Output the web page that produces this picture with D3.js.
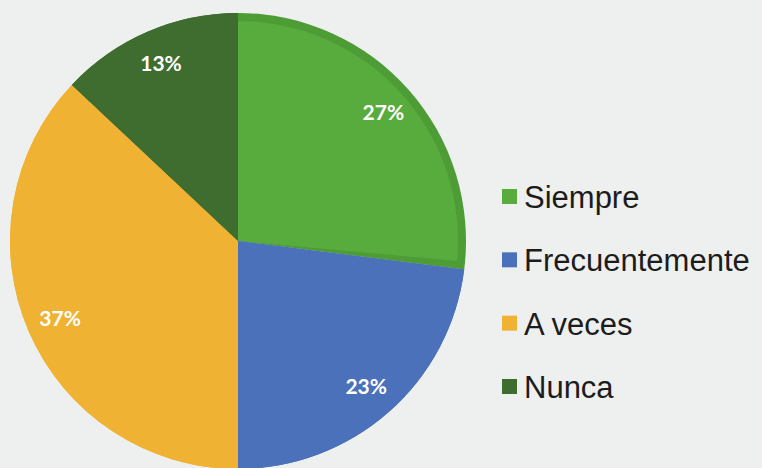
<!DOCTYPE html>
<html lang="es">

<head>
  <meta charset="UTF-8">
  <title>Pie chart</title>
  <style>
    body { margin: 0; background: #eef0ef; }
    svg { display: block; }
    .legend text { font-family: "Liberation Sans", Arial, sans-serif; fill: #1c1c1c; }
    .labels text { font-family: Lato, "Open Sans", sans-serif; font-weight: 700; fill: #fff; }
  </style>
  <script src="https://d3js.org/d3.v7.min.js"></script>
</head>

<body>
  <svg id="pie" width="762" height="468"></svg>
  <script>
    // data
    const categories = ["Siempre", "Frecuentemente", "A veces", "Nunca"];
    const values = [27, 23, 37, 13];
    const colors = ["#58ab3d", "#4a71b9", "#f0b233", "#3f6c2f"];
    const rimColors = ["#4e9c35", "#4a71b9", "#f0b233", "#3f6c2f"];

    const svg = d3.select("svg#pie");
    const cx = 238, cy = 241, radius = 228;

    const data = categories.map((c, i) => ({ name: c, value: values[i], color: colors[i], rim: rimColors[i] }));

    const pie = d3.pie().value(d => d.value).sort(null);
    const arcs = pie(data);
    const arc = d3.arc().innerRadius(0).outerRadius(radius);
    const innerArc = d3.arc().innerRadius(0).outerRadius(radius - 8);
    const labelArc = d3.arc().innerRadius(radius * 0.85).outerRadius(radius * 0.85);

    let chart = svg.append("g")
      .attr("transform", `translate(${cx},${cy})`);

    // outer fill (gives the darker rim on the green slice)
    chart.append("g").selectAll("path")
      .data(arcs)
      .join("path")
      .attr("d", arc)
      .attr("fill", d => d.data.rim);

    chart.append("g").selectAll("path")
      .data(arcs)
      .join("path")
      .attr("d", d => {
        if (d.index !== 0) return arc(d);
        return innerArc({ ...d, endAngle: d.endAngle - 0.035 });
      })
      .attr("fill", d => d.data.color);

    chart.append("g").attr("class", "labels").selectAll("text")
      .data(arcs)
      .join("text")
      .attr("transform", d => `translate(${labelArc.centroid(d)})`)
      .attr("text-anchor", "middle")
      .attr("dy", "0.36em")
      .attr("font-size", 21)
      .text(d => d.data.value + "%");

    // legend
    const legendY = d3.scalePoint().domain(categories).range([197, 387]);
    let legend = svg.append("g").attr("class", "legend");

    legend.selectAll("rect")
      .data(data)
      .join("rect")
      .attr("x", 502)
      .attr("y", d => legendY(d.name) - 8)
      .attr("width", 15)
      .attr("height", 15)
      .attr("fill", d => d.color);

    legend.selectAll("text")
      .data(data)
      .join("text")
      .attr("x", 524)
      .attr("y", d => legendY(d.name))
      .attr("dy", "0.36em")
      .attr("font-size", 31)
      .text(d => d.name);
  </script>
</body>

</html>
